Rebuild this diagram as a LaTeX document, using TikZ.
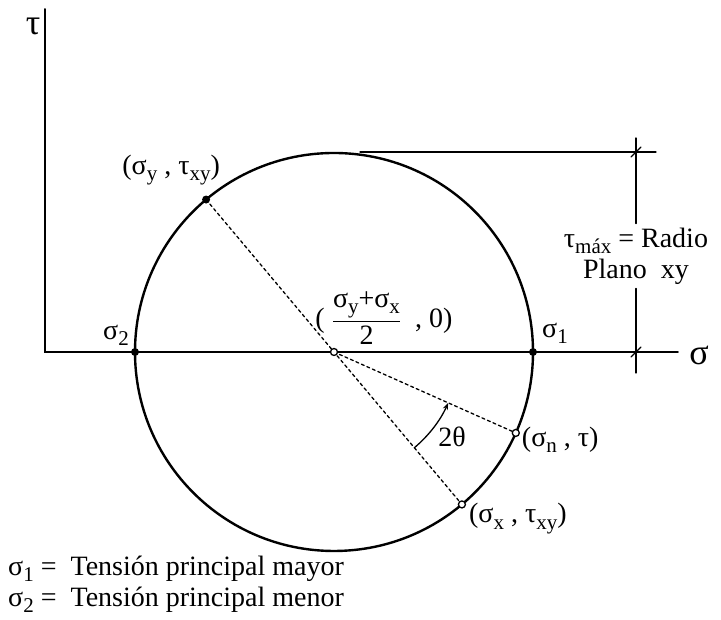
\documentclass[tikz,border=0pt]{standalone}
\usepackage{amsmath}
\usepackage{fontspec}
\setmainfont{Liberation Serif}
\usetikzlibrary{arrows.meta,calc,positioning}
\newcommand{\sbs}[1]{\raisebox{-0.5ex}{\fontsize{21}{21}\selectfont #1}}
\tikzset{
  circline/.style={line width=2.4pt},
  axisline/.style={line width=1.9pt},
  diamline/.style={line width=1.3pt,dash pattern=on 3pt off 3pt},
  dimline/.style={line width=1.3pt},
  bigdot/.style={circle,fill,inner sep=0pt,minimum size=8pt},
  opendot/.style={circle,draw,fill=white,line width=1.3pt,inner sep=0pt,minimum size=7pt},
  axislabel/.style={font=\fontsize{36}{40}\selectfont,inner sep=0pt},
}
\begin{document}
\begin{tikzpicture}[x=1pt,y=1pt,>=Stealth,line cap=round,font=\fontsize{28}{31}\selectfont]
 \useasboundingbox (0,0) rectangle (721,620);
 \coordinate (O) at (334,268);
 \coordinate (axorig) at (45,268);
 \coordinate (tautop) at (45,611);
 \coordinate (sigend) at (678,268);
 \path (O) ++(180:199) coordinate (s2) (O) ++(0:199) coordinate (s1)
  (O) ++(130:199) coordinate (sy) (O) ++(-50:199) coordinate (sx)
  (O) ++(-24:199) coordinate (sn);
 % ejes
 \draw[axisline] (tautop) -- (axorig) -- (sigend);
 \node[axislabel] (tau) at (33,594) {τ};
 \node[axislabel] (sig) at (699,265) {σ};
 % circulo de Mohr
 \draw[circline] (O) circle (199);
 \draw[diamline] (sy) -- (sx);
 \draw[diamline] (O) -- (sn);
 \draw[-{Stealth[length=7pt,width=5pt]},line width=1.3pt]
  ($(O)+(-50:125)$) arc[start angle=-50,end angle=-24,radius=125pt];
 \node (ang) at (452,183) {2θ};
 % puntos
 \node[bigdot] (p1) at (s1) {};
 \node[bigdot] (p2) at (s2) {};
 \node[bigdot] (py) at (sy) {};
 \node[opendot] (pc) at (O) {};
 \node[opendot] (pn) at (sn) {};
 \node[opendot] (px) at (sx) {};
 \node[anchor=south east,inner sep=2pt] (l2) at ($(s2)+(-4,4)$) {σ\sbs{2}};
 \node[anchor=south west,inner sep=2pt] (l1) at ($(s1)+(7,6)$) {σ\sbs{1}};
 \node[anchor=south east,inner sep=2pt] (ly) at ($(sy)+(16,12)$) {(σ\sbs{y} , τ\sbs{xy})};
 \node[anchor=west,inner sep=2pt] (ln) at ($(sn)+(4,-7)$) {(σ\sbs{n} , τ)};
 \node[anchor=west,inner sep=2pt] (lx) at ($(sx)+(5,-14)$) {(σ\sbs{x} , τ\sbs{xy})};
 \node (lc) at ($(O)+(50,34)$) {( $\dfrac{\text{σ\sbs{y}+σ\sbs{x}}}{\text{2}}$ \ , 0)};
 % radio maximo
 \coordinate (hstart) at (360,468);
 \coordinate (hend) at (656,468);
 \coordinate (dtop) at (636,482);
 \coordinate (dbot) at (636,247);
 \coordinate (tk1) at (636,468);
 \coordinate (tk2) at (636,268);
 \node[align=center,inner sep=4pt] (rad) at (636,364) {τ\sbs{máx} = Radio\\Plano \ xy};
 \draw[dimline] (hstart) -- (hend);
 \draw[dimline] (dtop) -- (rad.north);
 \draw[dimline] (rad.south) -- (dbot);
 \draw[dimline] ($(tk1)+(-5,-5)$) -- ($(tk1)+(5,5)$);
 \draw[dimline] ($(tk2)+(-5,-5)$) -- ($(tk2)+(5,5)$);
 % leyenda
 \node[anchor=west,inner sep=0pt] (leg1) at (8,51) {σ\sbs{1} = \ Tensión principal mayor};
 \node[anchor=west,inner sep=0pt] (leg2) at (8,20) {σ\sbs{2} = \ Tensión principal menor};
\end{tikzpicture}
\end{document}
